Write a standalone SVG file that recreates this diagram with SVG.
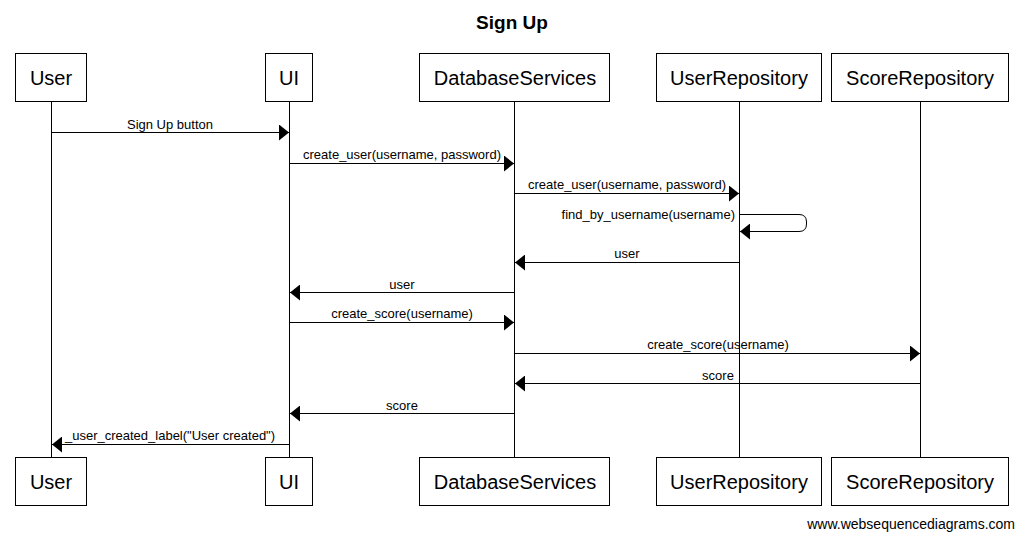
<svg xmlns="http://www.w3.org/2000/svg" width="1024" height="541" viewBox="0 0 1024 541">
<defs>
<style>
.box{fill:#fff;stroke:#000;stroke-width:1}
.bt{font-family:"Liberation Sans",Arial,sans-serif;font-size:20px;text-anchor:middle;fill:#000}
.life{stroke:#000;stroke-width:1}
.msg{stroke:#000;stroke-width:1;fill:none}
.ml{font-family:"Liberation Sans",Arial,sans-serif;font-size:13px;text-anchor:middle;fill:#000}
</style>
<marker id="ah" viewBox="0 0 10 16" refX="10" refY="8" markerWidth="10" markerHeight="16" markerUnits="userSpaceOnUse" orient="auto">
<path d="M0,0 L10,8 L0,16 Z" fill="#000"/>
</marker>
</defs>
<rect width="1024" height="541" fill="#fff"/>
<text x="512" y="29" font-family="Liberation Sans,Arial,sans-serif" font-size="19" font-weight="bold" text-anchor="middle">Sign Up</text>
<g id="lifelines">
<line class="life" x1="51.5" y1="101" x2="51.5" y2="457"/>
<line class="life" x1="289.5" y1="101" x2="289.5" y2="457"/>
<line class="life" x1="514.5" y1="101" x2="514.5" y2="457"/>
<line class="life" x1="739.5" y1="101" x2="739.5" y2="457"/>
<line class="life" x1="920.5" y1="101" x2="920.5" y2="457"/>
</g>
<g id="User">
<rect class="box" x="15.5" y="53.5" width="71" height="48"/><text class="bt" x="51" y="85">User</text>
<rect class="box" x="15.5" y="457.5" width="71" height="48"/><text class="bt" x="51" y="489">User</text>
</g>
<g id="UI">
<rect class="box" x="265.5" y="53.5" width="47" height="48"/><text class="bt" x="289" y="85">UI</text>
<rect class="box" x="265.5" y="457.5" width="47" height="48"/><text class="bt" x="289" y="489">UI</text>
</g>
<g id="DatabaseServices">
<rect class="box" x="419.5" y="53.5" width="190" height="48"/><text class="bt" x="515" y="85">DatabaseServices</text>
<rect class="box" x="419.5" y="457.5" width="190" height="48"/><text class="bt" x="515" y="489">DatabaseServices</text>
</g>
<g id="UserRepository">
<rect class="box" x="656.5" y="53.5" width="165" height="48"/><text class="bt" x="739" y="85">UserRepository</text>
<rect class="box" x="656.5" y="457.5" width="165" height="48"/><text class="bt" x="739" y="489">UserRepository</text>
</g>
<g id="ScoreRepository">
<rect class="box" x="831.5" y="53.5" width="177" height="48"/><text class="bt" x="920" y="85">ScoreRepository</text>
<rect class="box" x="831.5" y="457.5" width="177" height="48"/><text class="bt" x="920" y="489">ScoreRepository</text>
</g>
<g id="connectors">
<line class="msg" x1="51.5" y1="132.5" x2="289" y2="132.5" marker-end="url(#ah)"/>
<text class="ml" x="170" y="129">Sign Up button</text>
<line class="msg" x1="289.5" y1="163.5" x2="514" y2="163.5" marker-end="url(#ah)"/>
<text class="ml" x="402" y="159">create_user(username, password)</text>
<line class="msg" x1="514.5" y1="193.5" x2="739" y2="193.5" marker-end="url(#ah)"/>
<text class="ml" x="627" y="189">create_user(username, password)</text>
<path class="msg" d="M739.5,214.5 H799 Q806.5,214.5 806.5,222 V224 Q806.5,231.5 799,231.5 H740" marker-end="url(#ah)"/>
<text class="ml" x="735" y="219" style="text-anchor:end">find_by_username(username)</text>
<line class="msg" x1="739.5" y1="262.5" x2="515" y2="262.5" marker-end="url(#ah)"/>
<text class="ml" x="627" y="258">user</text>
<line class="msg" x1="514.5" y1="292.5" x2="290" y2="292.5" marker-end="url(#ah)"/>
<text class="ml" x="402" y="289">user</text>
<line class="msg" x1="289.5" y1="322.5" x2="514" y2="322.5" marker-end="url(#ah)"/>
<text class="ml" x="402" y="318">create_score(username)</text>
<line class="msg" x1="514.5" y1="353.5" x2="920" y2="353.5" marker-end="url(#ah)"/>
<text class="ml" x="718" y="349">create_score(username)</text>
<line class="msg" x1="920.5" y1="383.5" x2="515" y2="383.5" marker-end="url(#ah)"/>
<text class="ml" x="718" y="380">score</text>
<line class="msg" x1="514.5" y1="413.5" x2="290" y2="413.5" marker-end="url(#ah)"/>
<text class="ml" x="402" y="410">score</text>
<line class="msg" x1="289.5" y1="444.5" x2="52" y2="444.5" marker-end="url(#ah)"/>
<text class="ml" x="170" y="440">_user_created_label("User created")</text>
</g>
<text x="1015" y="529" font-family="Liberation Sans,Arial,sans-serif" font-size="14" text-anchor="end">www.websequencediagrams.com</text>
</svg>
